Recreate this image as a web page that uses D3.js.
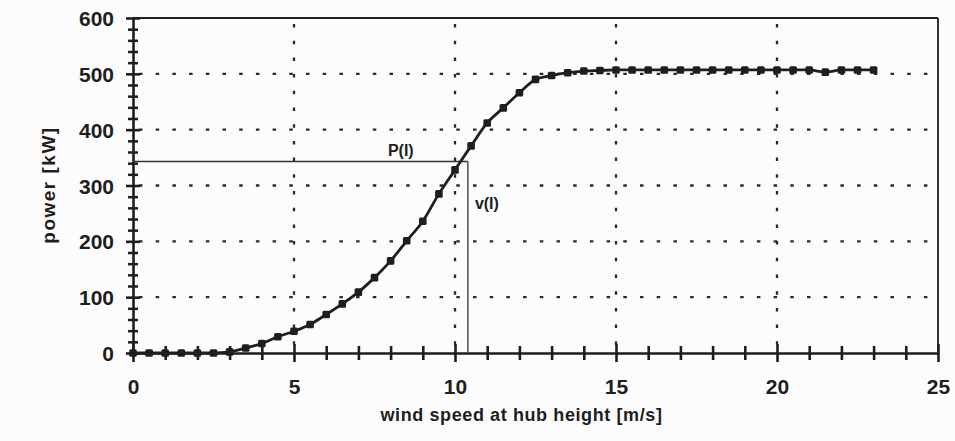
<!DOCTYPE html>
<html><head><meta charset="utf-8">
<script src="https://cdn.jsdelivr.net/npm/d3@7"></script>
<style>html,body{margin:0;padding:0;background:#fdfcfd;}svg{display:block;}</style>
</head><body>
<svg id="chart" width="955" height="441"></svg>
<script>
const windSpeed = [0,0.5,1,1.5,2,2.5,3,3.5,4,4.5,5,5.5,6,6.5,7,7.5,8,8.5,9,9.5,10,10.5,11,11.5,12,12.5,13,13.5,14,14.5,15,15.5,16,16.5,17,17.5,18,18.5,19,19.5,20,20.5,21,21.5,22,22.5,23];
const power = [0,0,0,0,0,0,2,9,17,29,39,51,69,88,109,135,165,201,236,285,328,371,412,439,466,490,497,502,505,506,507,507,507,507,507,507,507,507,507,507,507,507,507,503,507,507,507];
const xTicks = [0,5,10,15,20,25];
const yTicks = [0,100,200,300,400,500,600];
const xMinor = [1,2,3,4,6,7,8,9,11,12,13,14,16,17,18,19,21,22,23,24];
const yMinor = [20,40,60,80,120,140,160,180,220,240,260,280,320,340,360,380,420,440,460,480,520,540,560,580];
const marked = {v:10.4, p:343};
const labels = {x:"wind speed at hub height [m/s]", y:"power [kW]", p:"P(I)", v:"v(I)"};

const svg = d3.select("#chart");
const x = d3.scaleLinear().domain([0,25]).range([133,938]);
const y = d3.scaleLinear().domain([0,600]).range([353,18]);
const ink = "#1e1e1e";
const font = "Liberation Sans, Arial, sans-serif";

// grid
const grid = svg.append("g").attr("stroke", "#2a2a2a").attr("stroke-width", 2.3).attr("stroke-dasharray", "3.5,13.2");
grid.append("g").selectAll("line").data(yTicks.filter(d => d > 0 && d < 600)).join("line")
  .attr("x1", x(0)+6).attr("x2", x(25)-6).attr("y1", d => y(d)).attr("y2", d => y(d));
grid.append("g").selectAll("line").data(xTicks.filter(d => d > 0 && d < 25)).join("line")
  .attr("y1", y(600)+6).attr("y2", y(0)-6).attr("x1", d => x(d)).attr("x2", d => x(d));

// frame top/right
svg.append("line").attr("x1", x(0)).attr("x2", x(25)).attr("y1", y(600)).attr("y2", y(600)).attr("stroke", ink).attr("stroke-width", 1.8);
svg.append("line").attr("x1", x(25)).attr("x2", x(25)).attr("y1", y(600)).attr("y2", y(0)).attr("stroke", ink).attr("stroke-width", 1.8);

// axes
const yAxis = svg.append("g").attr("transform", `translate(${x(0)},0)`)
  .call(d3.axisLeft(y).tickValues(yTicks).tickSize(6).tickPadding(21).tickSizeOuter(0));
const xAxis = svg.append("g").attr("transform", `translate(0,${y(0)})`)
  .call(d3.axisBottom(x).tickValues(xTicks).tickSize(7).tickPadding(19).tickSizeOuter(0));
[yAxis, xAxis].forEach(g => {
  g.select(".domain").attr("stroke", ink).attr("stroke-width", 2.6);
  g.selectAll(".tick line").attr("stroke", ink).attr("stroke-width", 2.6);
  g.selectAll("text").attr("fill", ink).attr("font-family", font).attr("font-weight", "bold").attr("font-size", 21);
});
yAxis.selectAll(".tick line").attr("x2", 7).attr("x1", -7);
xAxis.selectAll(".tick line").attr("y1", -9).attr("y2", 9);
yAxis.selectAll("text").attr("dx", 8).attr("dy", "0.36em");

// minor ticks
const yMinorAxis = svg.append("g").attr("transform", `translate(${x(0)},0)`)
  .call(d3.axisLeft(y).tickValues(yMinor).tickSize(5).tickFormat(""));
yMinorAxis.select(".domain").remove();
yMinorAxis.selectAll(".tick line").attr("x1", 5).attr("x2", -5).attr("stroke", ink).attr("stroke-width", 2.5);
const xMinorAxis = svg.append("g").attr("transform", `translate(0,${y(0)})`)
  .call(d3.axisBottom(x).tickValues(xMinor).tickSize(7).tickFormat(""));
xMinorAxis.select(".domain").remove();
xMinorAxis.selectAll(".tick line").attr("y1", -7).attr("y2", 7).attr("stroke", ink).attr("stroke-width", 2.6);

// marked point lines
svg.append("line").attr("x1", x(0)).attr("x2", x(marked.v)).attr("y1", y(marked.p)).attr("y2", y(marked.p))
  .attr("stroke", "#333").attr("stroke-width", 1.6);
svg.append("line").attr("x1", x(marked.v)).attr("x2", x(marked.v)).attr("y1", y(marked.p)).attr("y2", y(0))
  .attr("stroke", "#444").attr("stroke-width", 1.4);
svg.append("text").attr("x", x(marked.v) - 80).attr("y", y(marked.p) - 5).text(labels.p)
  .attr("font-family", font).attr("font-weight", "bold").attr("font-size", 16).attr("fill", ink);
svg.append("text").attr("x", x(marked.v) + 7).attr("y", y(marked.p) + 48).text(labels.v)
  .attr("font-family", font).attr("font-weight", "bold").attr("font-size", 16).attr("fill", ink);

// curve
const data = windSpeed.map((v, i) => ({v, p: power[i]}));
svg.append("path").datum(data)
  .attr("d", d3.line().x(d => x(d.v)).y(d => y(d.p)).curve(d3.curveMonotoneX))
  .attr("fill", "none").attr("stroke", ink).attr("stroke-width", 2.8);
svg.append("g").selectAll("rect").data(data).join("rect")
  .attr("x", d => x(d.v) - 3.8).attr("y", d => y(d.p) - 3.8).attr("width", 7.6).attr("height", 7.6)
  .attr("rx", 1.5).attr("fill", ink);

// axis titles
svg.append("text").attr("x", (x(0)+x(25))/2 - 14).attr("y", 421).attr("text-anchor", "middle")
  .attr("font-family", font).attr("font-weight", "bold").attr("font-size", 18).attr("letter-spacing", 0.6)
  .attr("fill", ink).text(labels.x);
svg.append("text").attr("transform", "translate(55,185) rotate(-90)").attr("text-anchor", "middle")
  .attr("font-family", font).attr("font-weight", "bold").attr("font-size", 19).attr("letter-spacing", 1.5)
  .attr("fill", ink).text(labels.y);
</script>
</body></html>
